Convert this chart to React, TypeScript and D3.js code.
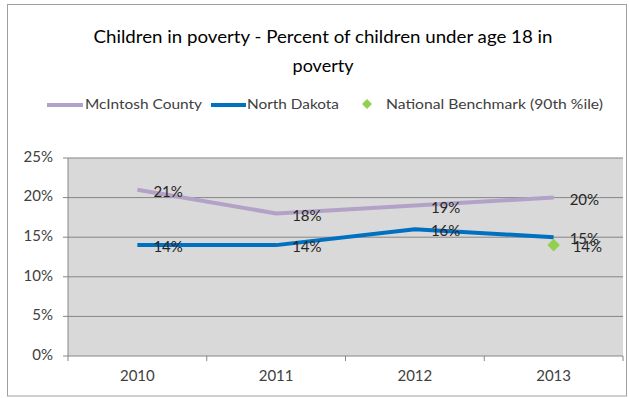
import React from "react";
import * as d3 from "d3";

const categories = ["2010", "2011", "2012", "2013"];
const mcintosh = [21, 18, 19, 20];
const northDakota = [14, 14, 16, 15];
const benchmark: (number | null)[] = [null, null, null, 14];
const yTicks = [0, 5, 10, 15, 20, 25];
const titleLines = ["Children in poverty - Percent of children under age 18 in", "poverty"];
const legendLabels = ["McIntosh County", "North Dakota", "National Benchmark (90th %ile)"];

const W = 629, H = 398;
const plot = { left: 68, right: 623, top: 158, bottom: 356 };
const FONT = "Lato, 'Open Sans', sans-serif";
const C_MC = "#B3A2C7", C_ND = "#0070C0", C_BM = "#92D050";

export default function App() {
  const x = d3.scaleBand<string>().domain(categories).range([plot.left, plot.right]);
  const y = d3.scaleLinear().domain([0, 25]).range([plot.bottom, plot.top]);
  const cx = (c: string) => (x(c) as number) + x.bandwidth() / 2;
  const line = d3.line<number>().x((_, i) => cx(categories[i])).y((d) => y(d));
  const bounds = [...categories.map((c) => x(c) as number), plot.right];

  const labels = (vals: (number | null)[], dx: number, dy: number) =>
    vals.map((v, i) =>
      v == null ? null : (
        <text key={i} x={cx(categories[i]) + dx} y={y(v) + dy} dominantBaseline="middle"
          fontSize={15} fill="#262626" fontFamily={FONT}>{v}%</text>
      )
    );

  return (
    <svg width={W} height={H} style={{ position: "absolute", left: 0, top: 0 }}>
      <rect x={0} y={0} width={W} height={H} fill="#fff" />
      <rect x={7.5} y={4.5} width={619} height={391.5} fill="#fff" stroke="#A0A0A0" strokeWidth={1} />
      {titleLines.map((t, i) => (
        <text key={i} x={323} y={38 + i * 29} textAnchor="middle" dominantBaseline="middle"
          fontSize={18} fontFamily={FONT} fill="#000"
          {...(i === 0 ? { textLength: 459, lengthAdjust: "spacingAndGlyphs" } : {})}>{t}</text>
      ))}
      {/* legend */}
      <g fontFamily={FONT} fontSize={14} fill="#404040">
        <line x1={47} x2={83} y1={105} y2={105} stroke={C_MC} strokeWidth={4} />
        <text x={85} y={105} dominantBaseline="middle" textLength={117} lengthAdjust="spacingAndGlyphs">{legendLabels[0]}</text>
        <line x1={211} x2={246} y1={105} y2={105} stroke={C_ND} strokeWidth={4} />
        <text x={247} y={105} dominantBaseline="middle" textLength={92} lengthAdjust="spacingAndGlyphs">{legendLabels[1]}</text>
        <path d={d3.symbol(d3.symbolDiamond2, 64)() as string} transform="translate(367,104)" fill={C_BM} />
        <text x={386} y={105} dominantBaseline="middle" textLength={217} lengthAdjust="spacingAndGlyphs">{legendLabels[2]}</text>
      </g>
      {/* plot area */}
      <rect x={plot.left} y={plot.top} width={plot.right - plot.left} height={plot.bottom - plot.top} fill="#D9D9D9" />
      {yTicks.map((t) => (
        <g key={t}>
          <line x1={plot.left - 5} x2={plot.right} y1={y(t)} y2={y(t)} stroke="#868686" strokeWidth={1} />
          <text x={53} y={y(t)} textAnchor="end" dominantBaseline="middle" fontSize={15}
            fontFamily={FONT} fill="#404040">{t}%</text>
        </g>
      ))}
      <line x1={plot.left} x2={plot.left} y1={plot.top} y2={plot.bottom} stroke="#868686" />
      {bounds.map((b, i) => (
        <line key={i} x1={b} x2={b} y1={plot.bottom} y2={plot.bottom + 5} stroke="#868686" />
      ))}
      {categories.map((c) => (
        <text key={c} x={cx(c)} y={377} textAnchor="middle" dominantBaseline="middle" fontSize={15}
          fontFamily={FONT} fill="#404040">{c}</text>
      ))}
      <path d={line(mcintosh) as string} fill="none" stroke={C_MC} strokeWidth={4} strokeLinejoin="round" />
      <path d={line(northDakota) as string} fill="none" stroke={C_ND} strokeWidth={4} strokeLinejoin="round" />
      {benchmark.map((v, i) =>
        v == null ? null : (
          <path key={i} d={d3.symbol(d3.symbolDiamond2, 100)() as string}
            transform={`translate(${cx(categories[i])},${y(v)})`} fill={C_BM} />
        )
      )}
      {labels(mcintosh, 16, 3.5)}
      {labels(northDakota, 16, 3)}
      {labels(benchmark, 19, 3)}
    </svg>
  );
}
